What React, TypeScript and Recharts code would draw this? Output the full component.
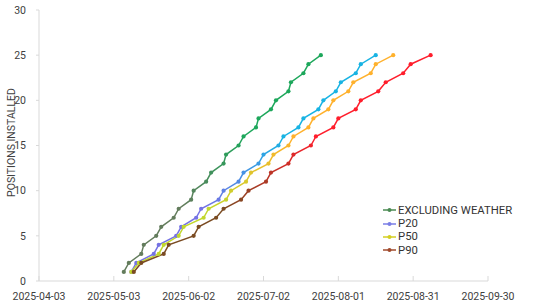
import React from 'react';
import { LineChart, Line, XAxis, YAxis } from 'recharts';

// installed positions (y value of every point, same for all four series)
const POSITIONS = [1, 2, 3, 4, 5, 6, 7, 8, 9, 10, 11, 12, 13, 14, 15, 16, 17, 18, 19, 20, 21, 22, 23, 24, 25];

const EXCLUDING_WEATHER_DATES = [
  '2025-05-07', '2025-05-09', '2025-05-14', '2025-05-15', '2025-05-20', '2025-05-22', '2025-05-27',
  '2025-05-29', '2025-06-03', '2025-06-04', '2025-06-09', '2025-06-11', '2025-06-16', '2025-06-17',
  '2025-06-22', '2025-06-24', '2025-06-29', '2025-06-30', '2025-07-05', '2025-07-07', '2025-07-12',
  '2025-07-13', '2025-07-18', '2025-07-20', '2025-07-25',
];
const P20_DATES = [
  '2025-05-10', '2025-05-12', '2025-05-19', '2025-05-21', '2025-05-28', '2025-05-30', '2025-06-05',
  '2025-06-07', '2025-06-14', '2025-06-16', '2025-06-22', '2025-06-24', '2025-06-30', '2025-07-02',
  '2025-07-08', '2025-07-10', '2025-07-16', '2025-07-18', '2025-07-24', '2025-07-26', '2025-07-31',
  '2025-08-02', '2025-08-08', '2025-08-10', '2025-08-16',
];
const P50_DATES = [
  '2025-05-10', '2025-05-13', '2025-05-21', '2025-05-23', '2025-05-29', '2025-05-31', '2025-06-08',
  '2025-06-10', '2025-06-17', '2025-06-19', '2025-06-25', '2025-06-27', '2025-07-04', '2025-07-06',
  '2025-07-12', '2025-07-14', '2025-07-20', '2025-07-22', '2025-07-28', '2025-07-30', '2025-08-05',
  '2025-08-07', '2025-08-14', '2025-08-16', '2025-08-23',
];
const P90_DATES = [
  '2025-05-11', '2025-05-14', '2025-05-23', '2025-05-25', '2025-06-04', '2025-06-06', '2025-06-13',
  '2025-06-16', '2025-06-23', '2025-06-26', '2025-07-03', '2025-07-05', '2025-07-12', '2025-07-14',
  '2025-07-21', '2025-07-23', '2025-07-30', '2025-08-01', '2025-08-08', '2025-08-10', '2025-08-17',
  '2025-08-20', '2025-08-27', '2025-08-30', '2025-09-07',
];

const X_TICKS = ['2025-04-03', '2025-05-03', '2025-06-02', '2025-07-02', '2025-08-01', '2025-08-31', '2025-09-30'];
const Y_TICKS = [0, 5, 10, 15, 20, 25, 30];

const toTime = (d: string) => new Date(d).getTime();
const fmtDate = (v: number) => new Date(v).toISOString().slice(0, 10);

const buildSeries = (dates: string[]) => dates.map((d, i) => ({ x: toTime(d), y: POSITIONS[i] }));

// gradient colours: [start, end]
const SERIES = [
  { id: 'gw', name: 'EXCLUDING WEATHER', data: buildSeries(EXCLUDING_WEATHER_DATES), from: '#637c5c', to: '#1da75b', legend: '#4a8a52' },
  { id: 'g20', name: 'P20', data: buildSeries(P20_DATES), from: '#7572e4', to: '#18b3e3', legend: '#7a7ee6' },
  { id: 'g50', name: 'P50', data: buildSeries(P50_DATES), from: '#c2d72c', to: '#ffb12c', legend: '#d4cf22' },
  { id: 'g90', name: 'P90', data: buildSeries(P90_DATES), from: '#7a4b22', to: '#ff1e2c', legend: '#a04a2c' },
];

const STOP_A = 0.3;
const STOP_B = 0.62;

const hex = (c: string) => [1, 3, 5].map((i) => parseInt(c.slice(i, i + 2), 16));
const mix = (a: string, b: string, t: number) => {
  const k = Math.min(1, Math.max(0, (t - STOP_A) / (STOP_B - STOP_A)));
  const ca = hex(a);
  const cb = hex(b);
  return `rgb(${ca.map((v, i) => Math.round(v + (cb[i] - v) * k)).join(',')})`;
};

const makeDot = (from: string, to: string, n: number) => (props: any) => {
  const { cx, cy, index } = props;
  if (cx == null || cy == null) return <g key={`d-${index}`} />;
  return <circle key={`d-${index}`} cx={cx} cy={cy} r={2.1} fill={mix(from, to, index / (n - 1))} />;
};

const AxisTitle = (props: any) => {
  const vb = props.viewBox || { x: 0, y: 0, width: 0, height: 0 };
  const cy = vb.y + vb.height / 2 - 3;
  return (
    <text x={15} y={cy} transform={`rotate(-90 15 ${cy})`} textAnchor="middle" fill="#404040" fontSize={10.5} fontFamily="Roboto">
      POSITIONS INSTALLED
    </text>
  );
};

const ChartLegend = () => (
  <div style={{ position: 'absolute', left: 383, top: 203.5, fontFamily: 'Roboto', fontSize: 11.3, color: '#333', lineHeight: 1 }}>
    {SERIES.map((s) => (
      <div key={s.id} style={{ display: 'flex', alignItems: 'center', height: 13.4, whiteSpace: 'nowrap' }}>
        <svg width={14} height={8} style={{ marginRight: 1 }}>
          <line x1={0} y1={4} x2={13} y2={4} stroke={s.legend} strokeWidth={1.5} />
          <circle cx={6.5} cy={4} r={2} fill={s.legend} />
        </svg>
        <span>{s.name}</span>
      </div>
    ))}
  </div>
);

export default function App() {
  return (
    <div style={{ position: 'absolute', left: 0, top: 0, width: 550, height: 308, background: '#fff' }}>
      <LineChart width={550} height={308} margin={{ top: 10, right: 62, left: 0, bottom: 7 }}>
        <defs>
          {SERIES.map((s) => (
            <linearGradient key={s.id} id={s.id} x1="0" y1="0" x2="1" y2="0">
              <stop offset={STOP_A} stopColor={s.from} />
              <stop offset={STOP_B} stopColor={s.to} />
            </linearGradient>
          ))}
        </defs>
        <XAxis
          type="number"
          dataKey="x"
          domain={[toTime(X_TICKS[0]), toTime(X_TICKS[X_TICKS.length - 1])]}
          ticks={X_TICKS.map(toTime)}
          tickFormatter={fmtDate}
          interval={0}
          height={20}
          stroke="#d9d9d9"
          tickSize={-5}
          tickMargin={17}
          tick={{ fill: '#404040', fontSize: 10.5, fontFamily: 'Roboto' }}
          allowDuplicatedCategory={false}
        />
        <YAxis
          type="number"
          dataKey="y"
          domain={[0, 30]}
          ticks={Y_TICKS}
          interval={0}
          width={39}
          stroke="#d9d9d9"
          tickSize={3}
          tickMargin={10}
          tick={{ fill: '#404040', fontSize: 10.5, fontFamily: 'Roboto' }}
          label={<AxisTitle />}
        />
        {SERIES.map((s) => (
          <Line
            key={s.id}
            data={s.data}
            dataKey="y"
            name={s.name}
            type="linear"
            stroke={`url(#${s.id})`}
            strokeWidth={1.5}
            dot={makeDot(s.from, s.to, s.data.length)}
            activeDot={false}
            isAnimationActive={false}
          />
        ))}
      </LineChart>
      <ChartLegend />
    </div>
  );
}
